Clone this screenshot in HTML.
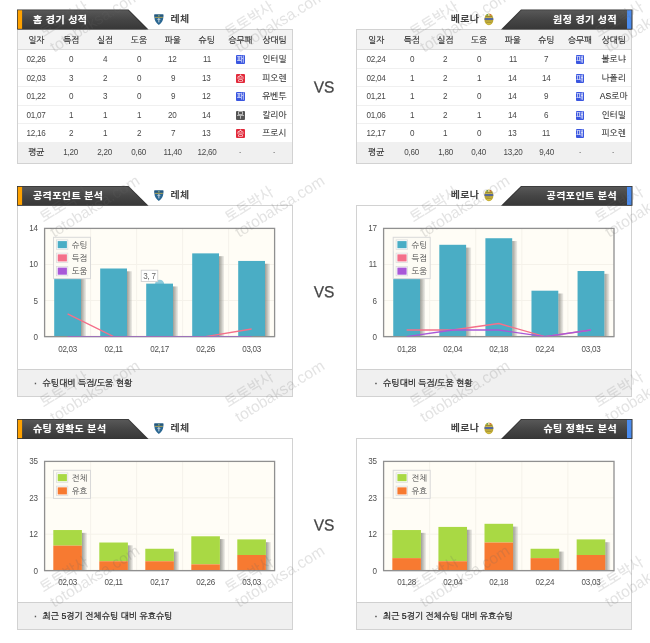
<!DOCTYPE html>
<html lang="ko">
<head>
<meta charset="utf-8">
<title>경기 분석</title>
<style>
*{margin:0;padding:0;box-sizing:border-box}
html,body{width:650px;height:643px;background:#fff;overflow:hidden}
body{position:relative;font-family:"Liberation Sans","NanumGothic","Noto Sans CJK KR",sans-serif;font-size:9px;color:#444}
.abs{position:absolute}
.tab{position:absolute;height:22px;width:133px}
.tab svg{position:absolute;left:0;top:0}
.tab h2{position:absolute;transform:scaleY(0.9);font-size:10px;font-weight:bold;font-family:"Liberation Sans","Noto Sans CJK KR",sans-serif;color:#fff;white-space:nowrap;letter-spacing:0.4px;text-shadow:0 0 1px rgba(255,255,255,.5)}
.team{position:absolute;height:19px;line-height:18px;font-size:10px;letter-spacing:0.3px;font-weight:bold;font-family:"Liberation Sans","Noto Sans CJK KR",sans-serif;color:#444;transform:scaleY(0.94);white-space:nowrap}
.box{position:absolute;width:276px;border:1px solid #d2d2d2;background:#fff}
table,thead,tbody,tfoot{display:block;width:274px}
tr{display:flex;width:274px;padding-left:var(--pad);overflow:hidden}
th,td{display:block;flex:0 0 auto;text-align:center;font-weight:normal;font-size:8.6px;color:#444;white-space:nowrap;overflow:visible;padding:0}
thead tr{background:#f3f3f3;border-bottom:1px solid #dcdcdc}
thead th{height:19.4px;line-height:20.8px;color:#262626;-webkit-text-stroke:0.15px #262626}
tbody tr{border-bottom:1px solid #f0f0f0}
tbody td{height:17.45px;line-height:18.2px;font-size:8.8px;color:#484848}
td span.n{display:inline-block;transform:scaleX(0.92);letter-spacing:-0.3px;margin:0 -3px;text-indent:-0.3px}
tbody td.t{font-size:8.6px;color:#262626;-webkit-text-stroke:0.08px #262626}
tfoot tr{background:#f0f0f0}
tfoot td{height:20px;line-height:19.8px;font-size:8.8px;color:#484848}
tfoot td.k{font-size:8.6px;color:#262626;-webkit-text-stroke:0.15px #262626}
.b{display:inline-block;position:relative;top:-0.3px;width:8.8px;height:9px;line-height:10.6px;font-size:8px;color:#fff;text-align:center;vertical-align:middle;border-radius:1px}
.b.w{background:#e2293a}.b.d{background:#555}.b.l{background:#3a56e0}
.c0{width:var(--w0)}.c1{width:var(--w1)}
.vs{position:absolute;left:294.4px;width:60px;text-align:center;font-size:16px;line-height:16px;color:#444;-webkit-text-stroke:0.25px #444;transform:translateY(var(--dy)) rotate(0.03deg) scaleX(0.97)}
.foot{position:absolute;left:0;right:0;bottom:0;height:27px;background:#f0f0f0;border-top:1px solid #d0d0d0;line-height:26.6px;font-size:8.75px;color:#222;padding-left:16px;white-space:nowrap;-webkit-text-stroke:0.22px #222}
.foot i{font-style:normal;display:inline-block;width:8.6px;color:#555;-webkit-text-stroke:0.5px #555}
.chart{position:absolute;left:0;top:0}
.chart text{font-family:"Liberation Sans","NanumGothic","Noto Sans CJK KR",sans-serif}
#wm{position:absolute;left:0;top:0;pointer-events:none;z-index:5}
.tab svg{z-index:4}
.tab h2{z-index:6}
#wm text{font-family:"Liberation Sans","NanumGothic","Noto Sans CJK KR",sans-serif;fill:#666;opacity:0.18}
#wm text.k{stroke:#666;stroke-width:0.3}
</style>
</head>
<body>
<div class="tab" style="left:17px;top:9px"><svg width="133" height="22" viewBox="0 0 133 22"><defs><linearGradient id="tg1" x1="0" y1="0" x2="0" y2="1"><stop offset="0" stop-color="#585858"/><stop offset="0.5" stop-color="#454545"/><stop offset="1" stop-color="#383838"/></linearGradient></defs><path d="M0 0.40H111.5L131.5 20.60H0Z" fill="#333"/><path d="M0.7 1.20H111L129.6 20.20H0.7Z" fill="url(#tg1)"/><rect x="0.8" y="1.30" width="4.3" height="18.50" fill="#ffa200"/></svg><h2 style="left:16px;top:0.80px;height:20.2px;line-height:20.2px">홈 경기 성적</h2></div>
<svg class="abs" style="left:154px;top:13.9px" width="10" height="12" viewBox="0 0 10 12"><path d="M0.4 0.5H9.3V3.6C9.3 6.6 7.4 9.3 4.85 11C2.3 9.3 0.4 6.6 0.4 3.6Z" fill="#2a6792"/><path d="M0.4 0.5H9.3V2.7H0.4Z" fill="#24587e"/><rect x="0.9" y="2.9" width="7.9" height="0.8" fill="#cbb04a"/><rect x="4.3" y="4" width="1.1" height="4.4" fill="#b9cbd6"/><rect x="3.3" y="4.9" width="3.1" height="0.9" fill="#b9cbd6"/><circle cx="4.85" cy="1.7" r="0.9" fill="#7d9a7a"/></svg>
<div class="team" style="left:170.6px;top:10px">레체</div>
<div class="tab" style="left:501px;top:9px"><svg width="133" height="22" viewBox="0 0 133 22"><defs><linearGradient id="tg2" x1="0" y1="0" x2="0" y2="1"><stop offset="0" stop-color="#585858"/><stop offset="0.5" stop-color="#454545"/><stop offset="1" stop-color="#383838"/></linearGradient></defs><path d="M20 0.40H131.5V20.60H0Z" fill="#333"/><path d="M20.5 1.20H130.8V20.20H1.9Z" fill="url(#tg2)"/><rect x="126" y="1.30" width="4.4" height="18.50" fill="#4a8cf0"/></svg><h2 style="right:17px;top:0.80px;height:20.2px;line-height:20.2px">원정 경기 성적</h2></div>
<div class="team" style="right:170.8px;top:10px">베로나</div>
<svg class="abs" style="left:484.4px;top:12.7px" width="10" height="13" viewBox="0 0 10 13"><ellipse cx="4.9" cy="6.4" rx="4.5" ry="5.9" fill="#c4ad34"/><ellipse cx="4.9" cy="6.4" rx="3.6" ry="5" fill="#d2bd45"/><rect x="0.6" y="4.9" width="8.6" height="2.1" fill="#55689c"/><rect x="1.2" y="7.6" width="7.4" height="0.7" fill="#8e7f2c"/><rect x="2.1" y="9.3" width="5.6" height="0.7" fill="#9a8a2e"/><rect x="2.6" y="1.1" width="1.6" height="1.5" fill="#62a458"/><rect x="4.2" y="1.1" width="1.4" height="1.5" fill="#ece6cf"/><rect x="5.6" y="1.1" width="1.6" height="1.5" fill="#d46a40"/><rect x="1.6" y="3.2" width="6.6" height="0.8" fill="#8e7f2c"/></svg>
<div class="box tb" style="left:17px;top:29px;height:134.6px;--pad:0.3px;--w0:36px;--w1:33.87px"><table><thead><tr><th class="c0">일자</th><th class="c1">득점</th><th class="c1">실점</th><th class="c1">도움</th><th class="c1">파울</th><th class="c1">슈팅</th><th class="c1">승무패</th><th class="c1">상대팀</th></tr></thead><tbody><tr><td class="c0"><span class="n">02,26</span></td><td class="c1"><span class="n">0</span></td><td class="c1"><span class="n">4</span></td><td class="c1"><span class="n">0</span></td><td class="c1"><span class="n">12</span></td><td class="c1"><span class="n">11</span></td><td class="c1"><span class="b l">패</span></td><td class="c1 t">인터밀</td></tr><tr><td class="c0"><span class="n">02,03</span></td><td class="c1"><span class="n">3</span></td><td class="c1"><span class="n">2</span></td><td class="c1"><span class="n">0</span></td><td class="c1"><span class="n">9</span></td><td class="c1"><span class="n">13</span></td><td class="c1"><span class="b w">승</span></td><td class="c1 t">피오렌</td></tr><tr><td class="c0"><span class="n">01,22</span></td><td class="c1"><span class="n">0</span></td><td class="c1"><span class="n">3</span></td><td class="c1"><span class="n">0</span></td><td class="c1"><span class="n">9</span></td><td class="c1"><span class="n">12</span></td><td class="c1"><span class="b l">패</span></td><td class="c1 t">유벤투</td></tr><tr><td class="c0"><span class="n">01,07</span></td><td class="c1"><span class="n">1</span></td><td class="c1"><span class="n">1</span></td><td class="c1"><span class="n">1</span></td><td class="c1"><span class="n">20</span></td><td class="c1"><span class="n">14</span></td><td class="c1"><span class="b d">무</span></td><td class="c1 t">칼리아</td></tr><tr><td class="c0"><span class="n">12,16</span></td><td class="c1"><span class="n">2</span></td><td class="c1"><span class="n">1</span></td><td class="c1"><span class="n">2</span></td><td class="c1"><span class="n">7</span></td><td class="c1"><span class="n">13</span></td><td class="c1"><span class="b w">승</span></td><td class="c1 t">프로시</td></tr></tbody><tfoot><tr><td class="c0 k">평균</td><td class="c1"><span class="n">1,20</span></td><td class="c1"><span class="n">2,20</span></td><td class="c1"><span class="n">0,60</span></td><td class="c1"><span class="n">11,40</span></td><td class="c1"><span class="n">12,60</span></td><td class="c1"><span class="n">·</span></td><td class="c1"><span class="n">·</span></td></tr></tfoot></table></div>
<div class="box tb" style="left:356px;top:29px;height:134.6px;--pad:0.4px;--w0:37.6px;--w1:33.65px"><table><thead><tr><th class="c0">일자</th><th class="c1">득점</th><th class="c1">실점</th><th class="c1">도움</th><th class="c1">파울</th><th class="c1">슈팅</th><th class="c1">승무패</th><th class="c1">상대팀</th></tr></thead><tbody><tr><td class="c0"><span class="n">02,24</span></td><td class="c1"><span class="n">0</span></td><td class="c1"><span class="n">2</span></td><td class="c1"><span class="n">0</span></td><td class="c1"><span class="n">11</span></td><td class="c1"><span class="n">7</span></td><td class="c1"><span class="b l">패</span></td><td class="c1 t">볼로냐</td></tr><tr><td class="c0"><span class="n">02,04</span></td><td class="c1"><span class="n">1</span></td><td class="c1"><span class="n">2</span></td><td class="c1"><span class="n">1</span></td><td class="c1"><span class="n">14</span></td><td class="c1"><span class="n">14</span></td><td class="c1"><span class="b l">패</span></td><td class="c1 t">나폴리</td></tr><tr><td class="c0"><span class="n">01,21</span></td><td class="c1"><span class="n">1</span></td><td class="c1"><span class="n">2</span></td><td class="c1"><span class="n">0</span></td><td class="c1"><span class="n">14</span></td><td class="c1"><span class="n">9</span></td><td class="c1"><span class="b l">패</span></td><td class="c1 t">AS로마</td></tr><tr><td class="c0"><span class="n">01,06</span></td><td class="c1"><span class="n">1</span></td><td class="c1"><span class="n">2</span></td><td class="c1"><span class="n">1</span></td><td class="c1"><span class="n">14</span></td><td class="c1"><span class="n">6</span></td><td class="c1"><span class="b l">패</span></td><td class="c1 t">인터밀</td></tr><tr><td class="c0"><span class="n">12,17</span></td><td class="c1"><span class="n">0</span></td><td class="c1"><span class="n">1</span></td><td class="c1"><span class="n">0</span></td><td class="c1"><span class="n">13</span></td><td class="c1"><span class="n">11</span></td><td class="c1"><span class="b l">패</span></td><td class="c1 t">피오렌</td></tr></tbody><tfoot><tr><td class="c0 k">평균</td><td class="c1"><span class="n">0,60</span></td><td class="c1"><span class="n">1,80</span></td><td class="c1"><span class="n">0,40</span></td><td class="c1"><span class="n">13,20</span></td><td class="c1"><span class="n">9,40</span></td><td class="c1"><span class="n">·</span></td><td class="c1"><span class="n">·</span></td></tr></tfoot></table></div>
<div class="vs" style="top:79px;--dy:0.5px">VS</div>
<div class="tab" style="left:17px;top:186px"><svg width="133" height="22" viewBox="0 0 133 22"><defs><linearGradient id="tg3" x1="0" y1="0" x2="0" y2="1"><stop offset="0" stop-color="#585858"/><stop offset="0.5" stop-color="#454545"/><stop offset="1" stop-color="#383838"/></linearGradient></defs><path d="M0 0.00H111.5L131.5 19.70H0Z" fill="#333"/><path d="M0.7 0.80H111L129.6 19.30H0.7Z" fill="url(#tg3)"/><rect x="0.8" y="0.90" width="4.3" height="18.00" fill="#ffa200"/></svg><h2 style="left:16px;top:0.40px;height:19.7px;line-height:19.7px">공격포인트 분석</h2></div>
<svg class="abs" style="left:154px;top:189.9px" width="10" height="12" viewBox="0 0 10 12"><path d="M0.4 0.5H9.3V3.6C9.3 6.6 7.4 9.3 4.85 11C2.3 9.3 0.4 6.6 0.4 3.6Z" fill="#2a6792"/><path d="M0.4 0.5H9.3V2.7H0.4Z" fill="#24587e"/><rect x="0.9" y="2.9" width="7.9" height="0.8" fill="#cbb04a"/><rect x="4.3" y="4" width="1.1" height="4.4" fill="#b9cbd6"/><rect x="3.3" y="4.9" width="3.1" height="0.9" fill="#b9cbd6"/><circle cx="4.85" cy="1.7" r="0.9" fill="#7d9a7a"/></svg>
<div class="team" style="left:170.6px;top:186px">레체</div>
<div class="tab" style="left:501px;top:186px"><svg width="133" height="22" viewBox="0 0 133 22"><defs><linearGradient id="tg4" x1="0" y1="0" x2="0" y2="1"><stop offset="0" stop-color="#585858"/><stop offset="0.5" stop-color="#454545"/><stop offset="1" stop-color="#383838"/></linearGradient></defs><path d="M20 0.00H131.5V19.70H0Z" fill="#333"/><path d="M20.5 0.80H130.8V19.30H1.9Z" fill="url(#tg4)"/><rect x="126" y="0.90" width="4.4" height="18.00" fill="#4a8cf0"/></svg><h2 style="right:17px;top:0.40px;height:19.7px;line-height:19.7px">공격포인트 분석</h2></div>
<div class="team" style="right:170.8px;top:186px">베로나</div>
<svg class="abs" style="left:484.4px;top:188.7px" width="10" height="13" viewBox="0 0 10 13"><ellipse cx="4.9" cy="6.4" rx="4.5" ry="5.9" fill="#c4ad34"/><ellipse cx="4.9" cy="6.4" rx="3.6" ry="5" fill="#d2bd45"/><rect x="0.6" y="4.9" width="8.6" height="2.1" fill="#55689c"/><rect x="1.2" y="7.6" width="7.4" height="0.7" fill="#8e7f2c"/><rect x="2.1" y="9.3" width="5.6" height="0.7" fill="#9a8a2e"/><rect x="2.6" y="1.1" width="1.6" height="1.5" fill="#62a458"/><rect x="4.2" y="1.1" width="1.4" height="1.5" fill="#ece6cf"/><rect x="5.6" y="1.1" width="1.6" height="1.5" fill="#d46a40"/><rect x="1.6" y="3.2" width="6.6" height="0.8" fill="#8e7f2c"/></svg>
<div class="box" style="left:17px;top:205px;height:192px"><svg class="chart" width="274" height="163" viewBox="0 0 274 163"><defs><linearGradient id="sh1" x1="0" y1="0" x2="1" y2="0"><stop offset="0" stop-color="#7d7d76" stop-opacity="0.75"/><stop offset="0.5" stop-color="#8d8d86" stop-opacity="0.5"/><stop offset="1" stop-color="#aaa" stop-opacity="0.2"/></linearGradient></defs><defs><clipPath id="cp1"><rect x="26.6" y="22.4" width="230.00000000000003" height="108.54999999999998"/></clipPath></defs><rect x="26.6" y="22.4" width="230.00000000000003" height="108.19999999999999" fill="#fffdf6"/><line x1="72.60" y1="22.4" x2="72.60" y2="130.6" stroke="#f5f2ea" stroke-width="1"/><line x1="118.60" y1="22.4" x2="118.60" y2="130.6" stroke="#f5f2ea" stroke-width="1"/><line x1="164.60" y1="22.4" x2="164.60" y2="130.6" stroke="#f5f2ea" stroke-width="1"/><line x1="210.60" y1="22.4" x2="210.60" y2="130.6" stroke="#f5f2ea" stroke-width="1"/><line x1="26.6" y1="58.47" x2="256.6" y2="58.47" stroke="#f5f2ea" stroke-width="1"/><line x1="26.6" y1="94.53" x2="256.6" y2="94.53" stroke="#f5f2ea" stroke-width="1"/><circle cx="141.60" cy="78.23" r="4.6" fill="#8ccbdc"/><rect x="63.00" y="35.04" width="5" height="95.56" fill="url(#sh1)"/><rect x="36.20" y="32.24" width="26.8" height="98.36" fill="#4aadc5"/><rect x="109.00" y="65.30" width="5" height="65.30" fill="url(#sh1)"/><rect x="82.20" y="62.50" width="26.8" height="68.10" fill="#4aadc5"/><rect x="155.00" y="80.43" width="5" height="50.17" fill="url(#sh1)"/><rect x="128.20" y="77.63" width="26.8" height="52.97" fill="#4aadc5"/><rect x="201.00" y="50.17" width="5" height="80.43" fill="url(#sh1)"/><rect x="174.20" y="47.37" width="26.8" height="83.23" fill="#4aadc5"/><rect x="247.00" y="57.74" width="5" height="72.86" fill="url(#sh1)"/><rect x="220.20" y="54.94" width="26.8" height="75.66" fill="#4aadc5"/><rect x="26.6" y="22.4" width="230.00000000000003" height="108.19999999999999" fill="none" stroke="#909090" stroke-width="1.3"/><polyline points="49.6,107.9 95.6,130.6 141.6,130.6 187.6,130.6 233.6,123.0" fill="none" stroke="#f4708a" stroke-width="1.35" stroke-linejoin="round" clip-path="url(#cp1)"/><polyline points="49.6,130.6 95.6,130.6 141.6,130.6 187.6,130.6 233.6,130.6" fill="none" stroke="#a858d8" stroke-width="1.35" stroke-linejoin="round" clip-path="url(#cp1)"/><line x1="26.6" y1="130.6" x2="256.6" y2="130.6" stroke="#909090" stroke-width="1.3" stroke-opacity="0.45"/><text transform="translate(19.6,25.40) scale(0.92,1)" text-anchor="end" font-size="8.8" letter-spacing="-0.3" fill="#505050">14</text><text transform="translate(19.6,61.47) scale(0.92,1)" text-anchor="end" font-size="8.8" letter-spacing="-0.3" fill="#505050">10</text><text transform="translate(19.6,97.53) scale(0.92,1)" text-anchor="end" font-size="8.8" letter-spacing="-0.3" fill="#505050">5</text><text transform="translate(19.6,133.60) scale(0.92,1)" text-anchor="end" font-size="8.8" letter-spacing="-0.3" fill="#505050">0</text><text transform="translate(49.60,145.80) scale(0.92,1)" text-anchor="middle" font-size="8.8" letter-spacing="-0.3" fill="#505050">02,03</text><text transform="translate(95.60,145.80) scale(0.92,1)" text-anchor="middle" font-size="8.8" letter-spacing="-0.3" fill="#505050">02,11</text><text transform="translate(141.60,145.80) scale(0.92,1)" text-anchor="middle" font-size="8.8" letter-spacing="-0.3" fill="#505050">02,17</text><text transform="translate(187.60,145.80) scale(0.92,1)" text-anchor="middle" font-size="8.8" letter-spacing="-0.3" fill="#505050">02,26</text><text transform="translate(233.60,145.80) scale(0.92,1)" text-anchor="middle" font-size="8.8" letter-spacing="-0.3" fill="#505050">03,03</text><rect x="35.5" y="31.3" width="37" height="41.35" fill="#fdfbf4" stroke="#d9d9d9" stroke-width="1"/><rect x="38.4" y="33.90" width="11.4" height="9.4" fill="#fff" stroke="#dcdcdc" stroke-width="0.8"/><rect x="39.7" y="35.10" width="9.2" height="7.1" fill="#4aadc5"/><text x="53.7" y="41.80" font-size="8.3" fill="#444">슈팅</text><rect x="38.4" y="47.15" width="11.4" height="9.4" fill="#fff" stroke="#dcdcdc" stroke-width="0.8"/><rect x="39.7" y="48.35" width="9.2" height="7.1" fill="#f4708a"/><text x="53.7" y="55.05" font-size="8.3" fill="#444">득점</text><rect x="38.4" y="60.40" width="11.4" height="9.4" fill="#fff" stroke="#dcdcdc" stroke-width="0.8"/><rect x="39.7" y="61.60" width="9.2" height="7.1" fill="#a858d8"/><text x="53.7" y="68.30" font-size="8.3" fill="#444">도움</text><rect x="123.2" y="64.2" width="16.6" height="11.4" fill="#fff" stroke="#ccc" stroke-width="0.8"/><text transform="translate(131.5,73.0) scale(0.92,1)" text-anchor="middle" font-size="8.8" letter-spacing="-0.3" fill="#666">3, 7</text></svg><div class="foot" style="padding-left:16px"><i>·</i>슈팅대비 득점/도움 현황</div></div>
<div class="box" style="left:356px;top:205px;height:192px"><svg class="chart" width="274" height="163" viewBox="0 0 274 163"><defs><linearGradient id="sh2" x1="0" y1="0" x2="1" y2="0"><stop offset="0" stop-color="#7d7d76" stop-opacity="0.75"/><stop offset="0.5" stop-color="#8d8d86" stop-opacity="0.5"/><stop offset="1" stop-color="#aaa" stop-opacity="0.2"/></linearGradient></defs><defs><clipPath id="cp2"><rect x="26.6" y="22.4" width="230.4" height="108.54999999999998"/></clipPath></defs><rect x="26.6" y="22.4" width="230.4" height="108.19999999999999" fill="#fffdf6"/><line x1="72.68" y1="22.4" x2="72.68" y2="130.6" stroke="#f5f2ea" stroke-width="1"/><line x1="118.76" y1="22.4" x2="118.76" y2="130.6" stroke="#f5f2ea" stroke-width="1"/><line x1="164.84" y1="22.4" x2="164.84" y2="130.6" stroke="#f5f2ea" stroke-width="1"/><line x1="210.92" y1="22.4" x2="210.92" y2="130.6" stroke="#f5f2ea" stroke-width="1"/><line x1="26.6" y1="58.47" x2="257.0" y2="58.47" stroke="#f5f2ea" stroke-width="1"/><line x1="26.6" y1="94.53" x2="257.0" y2="94.53" stroke="#f5f2ea" stroke-width="1"/><rect x="63.04" y="48.15" width="5" height="82.45" fill="url(#sh2)"/><rect x="36.24" y="45.35" width="26.8" height="85.25" fill="#4aadc5"/><rect x="109.12" y="41.59" width="5" height="89.01" fill="url(#sh2)"/><rect x="82.32" y="38.79" width="26.8" height="91.81" fill="#4aadc5"/><rect x="155.20" y="35.04" width="5" height="95.56" fill="url(#sh2)"/><rect x="128.40" y="32.24" width="26.8" height="98.36" fill="#4aadc5"/><rect x="201.28" y="87.50" width="5" height="43.10" fill="url(#sh2)"/><rect x="174.48" y="84.70" width="26.8" height="45.90" fill="#4aadc5"/><rect x="247.36" y="67.82" width="5" height="62.78" fill="url(#sh2)"/><rect x="220.56" y="65.02" width="26.8" height="65.58" fill="#4aadc5"/><rect x="26.6" y="22.4" width="230.4" height="108.19999999999999" fill="none" stroke="#909090" stroke-width="1.3"/><polyline points="49.6,124.0 95.7,124.0 141.8,117.5 187.9,130.6 234.0,124.0" fill="none" stroke="#f4708a" stroke-width="1.35" stroke-linejoin="round" clip-path="url(#cp2)"/><polyline points="49.6,130.6 95.7,124.0 141.8,124.0 187.9,130.6 234.0,124.0" fill="none" stroke="#a858d8" stroke-width="1.35" stroke-linejoin="round" clip-path="url(#cp2)"/><line x1="26.6" y1="130.6" x2="257.0" y2="130.6" stroke="#909090" stroke-width="1.3" stroke-opacity="0.45"/><text transform="translate(19.6,25.40) scale(0.92,1)" text-anchor="end" font-size="8.8" letter-spacing="-0.3" fill="#505050">17</text><text transform="translate(19.6,61.47) scale(0.92,1)" text-anchor="end" font-size="8.8" letter-spacing="-0.3" fill="#505050">11</text><text transform="translate(19.6,97.53) scale(0.92,1)" text-anchor="end" font-size="8.8" letter-spacing="-0.3" fill="#505050">6</text><text transform="translate(19.6,133.60) scale(0.92,1)" text-anchor="end" font-size="8.8" letter-spacing="-0.3" fill="#505050">0</text><text transform="translate(49.64,145.80) scale(0.92,1)" text-anchor="middle" font-size="8.8" letter-spacing="-0.3" fill="#505050">01,28</text><text transform="translate(95.72,145.80) scale(0.92,1)" text-anchor="middle" font-size="8.8" letter-spacing="-0.3" fill="#505050">02,04</text><text transform="translate(141.80,145.80) scale(0.92,1)" text-anchor="middle" font-size="8.8" letter-spacing="-0.3" fill="#505050">02,18</text><text transform="translate(187.88,145.80) scale(0.92,1)" text-anchor="middle" font-size="8.8" letter-spacing="-0.3" fill="#505050">02,24</text><text transform="translate(233.96,145.80) scale(0.92,1)" text-anchor="middle" font-size="8.8" letter-spacing="-0.3" fill="#505050">03,03</text><rect x="36.2" y="31.3" width="37" height="41.35" fill="#fdfbf4" stroke="#d9d9d9" stroke-width="1"/><rect x="39.1" y="33.90" width="11.4" height="9.4" fill="#fff" stroke="#dcdcdc" stroke-width="0.8"/><rect x="40.400000000000006" y="35.10" width="9.2" height="7.1" fill="#4aadc5"/><text x="54.400000000000006" y="41.80" font-size="8.3" fill="#444">슈팅</text><rect x="39.1" y="47.15" width="11.4" height="9.4" fill="#fff" stroke="#dcdcdc" stroke-width="0.8"/><rect x="40.400000000000006" y="48.35" width="9.2" height="7.1" fill="#f4708a"/><text x="54.400000000000006" y="55.05" font-size="8.3" fill="#444">득점</text><rect x="39.1" y="60.40" width="11.4" height="9.4" fill="#fff" stroke="#dcdcdc" stroke-width="0.8"/><rect x="40.400000000000006" y="61.60" width="9.2" height="7.1" fill="#a858d8"/><text x="54.400000000000006" y="68.30" font-size="8.3" fill="#444">도움</text></svg><div class="foot" style="padding-left:17.4px"><i>·</i>슈팅대비 득점/도움 현황</div></div>
<div class="vs" style="top:284px;--dy:0.2px">VS</div>
<div class="tab" style="left:17px;top:419px"><svg width="133" height="22" viewBox="0 0 133 22"><defs><linearGradient id="tg5" x1="0" y1="0" x2="0" y2="1"><stop offset="0" stop-color="#585858"/><stop offset="0.5" stop-color="#454545"/><stop offset="1" stop-color="#383838"/></linearGradient></defs><path d="M0 0.00H111.5L131.5 19.90H0Z" fill="#333"/><path d="M0.7 0.80H111L129.6 19.50H0.7Z" fill="url(#tg5)"/><rect x="0.8" y="0.90" width="4.3" height="18.20" fill="#ffa200"/></svg><h2 style="left:16px;top:0.40px;height:19.9px;line-height:19.9px">슈팅 정확도 분석</h2></div>
<svg class="abs" style="left:154px;top:422.9px" width="10" height="12" viewBox="0 0 10 12"><path d="M0.4 0.5H9.3V3.6C9.3 6.6 7.4 9.3 4.85 11C2.3 9.3 0.4 6.6 0.4 3.6Z" fill="#2a6792"/><path d="M0.4 0.5H9.3V2.7H0.4Z" fill="#24587e"/><rect x="0.9" y="2.9" width="7.9" height="0.8" fill="#cbb04a"/><rect x="4.3" y="4" width="1.1" height="4.4" fill="#b9cbd6"/><rect x="3.3" y="4.9" width="3.1" height="0.9" fill="#b9cbd6"/><circle cx="4.85" cy="1.7" r="0.9" fill="#7d9a7a"/></svg>
<div class="team" style="left:170.6px;top:419px">레체</div>
<div class="tab" style="left:501px;top:419px"><svg width="133" height="22" viewBox="0 0 133 22"><defs><linearGradient id="tg6" x1="0" y1="0" x2="0" y2="1"><stop offset="0" stop-color="#585858"/><stop offset="0.5" stop-color="#454545"/><stop offset="1" stop-color="#383838"/></linearGradient></defs><path d="M20 0.00H131.5V19.90H0Z" fill="#333"/><path d="M20.5 0.80H130.8V19.50H1.9Z" fill="url(#tg6)"/><rect x="126" y="0.90" width="4.4" height="18.20" fill="#4a8cf0"/></svg><h2 style="right:17px;top:0.40px;height:19.9px;line-height:19.9px">슈팅 정확도 분석</h2></div>
<div class="team" style="right:170.8px;top:419px">베로나</div>
<svg class="abs" style="left:484.4px;top:421.7px" width="10" height="13" viewBox="0 0 10 13"><ellipse cx="4.9" cy="6.4" rx="4.5" ry="5.9" fill="#c4ad34"/><ellipse cx="4.9" cy="6.4" rx="3.6" ry="5" fill="#d2bd45"/><rect x="0.6" y="4.9" width="8.6" height="2.1" fill="#55689c"/><rect x="1.2" y="7.6" width="7.4" height="0.7" fill="#8e7f2c"/><rect x="2.1" y="9.3" width="5.6" height="0.7" fill="#9a8a2e"/><rect x="2.6" y="1.1" width="1.6" height="1.5" fill="#62a458"/><rect x="4.2" y="1.1" width="1.4" height="1.5" fill="#ece6cf"/><rect x="5.6" y="1.1" width="1.6" height="1.5" fill="#d46a40"/><rect x="1.6" y="3.2" width="6.6" height="0.8" fill="#8e7f2c"/></svg>
<div class="box" style="left:17px;top:438px;height:192px"><svg class="chart" width="274" height="163" viewBox="0 0 274 163"><defs><linearGradient id="sh3" x1="0" y1="0" x2="1" y2="0"><stop offset="0" stop-color="#7d7d76" stop-opacity="0.75"/><stop offset="0.5" stop-color="#8d8d86" stop-opacity="0.5"/><stop offset="1" stop-color="#aaa" stop-opacity="0.2"/></linearGradient></defs><defs><clipPath id="cp3"><rect x="26.6" y="22.4" width="230.00000000000003" height="109.54999999999998"/></clipPath></defs><rect x="26.6" y="22.4" width="230.00000000000003" height="109.19999999999999" fill="#fffdf6"/><line x1="72.60" y1="22.4" x2="72.60" y2="131.6" stroke="#f5f2ea" stroke-width="1"/><line x1="118.60" y1="22.4" x2="118.60" y2="131.6" stroke="#f5f2ea" stroke-width="1"/><line x1="164.60" y1="22.4" x2="164.60" y2="131.6" stroke="#f5f2ea" stroke-width="1"/><line x1="210.60" y1="22.4" x2="210.60" y2="131.6" stroke="#f5f2ea" stroke-width="1"/><line x1="26.6" y1="58.80" x2="256.6" y2="58.80" stroke="#f5f2ea" stroke-width="1"/><line x1="26.6" y1="95.20" x2="256.6" y2="95.20" stroke="#f5f2ea" stroke-width="1"/><rect x="63.90" y="93.84" width="5" height="37.76" fill="url(#sh3)"/><rect x="35.30" y="91.04" width="28.6" height="15.60" fill="#a9d944"/><rect x="35.30" y="106.64" width="28.6" height="24.96" fill="#f77a31"/><rect x="109.90" y="106.32" width="5" height="25.28" fill="url(#sh3)"/><rect x="81.30" y="103.52" width="28.6" height="18.72" fill="#a9d944"/><rect x="81.30" y="122.24" width="28.6" height="9.36" fill="#f77a31"/><rect x="155.90" y="112.56" width="5" height="19.04" fill="url(#sh3)"/><rect x="127.30" y="109.76" width="28.6" height="12.48" fill="#a9d944"/><rect x="127.30" y="122.24" width="28.6" height="9.36" fill="#f77a31"/><rect x="201.90" y="100.08" width="5" height="31.52" fill="url(#sh3)"/><rect x="173.30" y="97.28" width="28.6" height="28.08" fill="#a9d944"/><rect x="173.30" y="125.36" width="28.6" height="6.24" fill="#f77a31"/><rect x="247.90" y="103.20" width="5" height="28.40" fill="url(#sh3)"/><rect x="219.30" y="100.40" width="28.6" height="15.60" fill="#a9d944"/><rect x="219.30" y="116.00" width="28.6" height="15.60" fill="#f77a31"/><rect x="26.6" y="22.4" width="230.00000000000003" height="109.19999999999999" fill="none" stroke="#909090" stroke-width="1.3"/><line x1="26.6" y1="131.6" x2="256.6" y2="131.6" stroke="#909090" stroke-width="1.3" stroke-opacity="0.45"/><text transform="translate(19.6,25.40) scale(0.92,1)" text-anchor="end" font-size="8.8" letter-spacing="-0.3" fill="#505050">35</text><text transform="translate(19.6,61.80) scale(0.92,1)" text-anchor="end" font-size="8.8" letter-spacing="-0.3" fill="#505050">23</text><text transform="translate(19.6,98.20) scale(0.92,1)" text-anchor="end" font-size="8.8" letter-spacing="-0.3" fill="#505050">12</text><text transform="translate(19.6,134.60) scale(0.92,1)" text-anchor="end" font-size="8.8" letter-spacing="-0.3" fill="#505050">0</text><text transform="translate(49.60,146.20) scale(0.92,1)" text-anchor="middle" font-size="8.8" letter-spacing="-0.3" fill="#505050">02,03</text><text transform="translate(95.60,146.20) scale(0.92,1)" text-anchor="middle" font-size="8.8" letter-spacing="-0.3" fill="#505050">02,11</text><text transform="translate(141.60,146.20) scale(0.92,1)" text-anchor="middle" font-size="8.8" letter-spacing="-0.3" fill="#505050">02,17</text><text transform="translate(187.60,146.20) scale(0.92,1)" text-anchor="middle" font-size="8.8" letter-spacing="-0.3" fill="#505050">02,26</text><text transform="translate(233.60,146.20) scale(0.92,1)" text-anchor="middle" font-size="8.8" letter-spacing="-0.3" fill="#505050">03,03</text><rect x="35.5" y="31.3" width="37" height="28.10" fill="#fdfbf4" stroke="#d9d9d9" stroke-width="1"/><rect x="38.4" y="33.90" width="11.4" height="9.4" fill="#fff" stroke="#dcdcdc" stroke-width="0.8"/><rect x="39.7" y="35.10" width="9.2" height="7.1" fill="#a9d944"/><text x="53.7" y="41.80" font-size="8.3" fill="#444">전체</text><rect x="38.4" y="47.15" width="11.4" height="9.4" fill="#fff" stroke="#dcdcdc" stroke-width="0.8"/><rect x="39.7" y="48.35" width="9.2" height="7.1" fill="#f77a31"/><text x="53.7" y="55.05" font-size="8.3" fill="#444">유효</text></svg><div class="foot" style="padding-left:16px"><i>·</i>최근 5경기 전체슈팅 대비 유효슈팅</div></div>
<div class="box" style="left:356px;top:438px;height:192px"><svg class="chart" width="274" height="163" viewBox="0 0 274 163"><defs><linearGradient id="sh4" x1="0" y1="0" x2="1" y2="0"><stop offset="0" stop-color="#7d7d76" stop-opacity="0.75"/><stop offset="0.5" stop-color="#8d8d86" stop-opacity="0.5"/><stop offset="1" stop-color="#aaa" stop-opacity="0.2"/></linearGradient></defs><defs><clipPath id="cp4"><rect x="26.6" y="22.4" width="230.4" height="109.54999999999998"/></clipPath></defs><rect x="26.6" y="22.4" width="230.4" height="109.19999999999999" fill="#fffdf6"/><line x1="72.68" y1="22.4" x2="72.68" y2="131.6" stroke="#f5f2ea" stroke-width="1"/><line x1="118.76" y1="22.4" x2="118.76" y2="131.6" stroke="#f5f2ea" stroke-width="1"/><line x1="164.84" y1="22.4" x2="164.84" y2="131.6" stroke="#f5f2ea" stroke-width="1"/><line x1="210.92" y1="22.4" x2="210.92" y2="131.6" stroke="#f5f2ea" stroke-width="1"/><line x1="26.6" y1="58.80" x2="257.0" y2="58.80" stroke="#f5f2ea" stroke-width="1"/><line x1="26.6" y1="95.20" x2="257.0" y2="95.20" stroke="#f5f2ea" stroke-width="1"/><rect x="63.94" y="93.84" width="5" height="37.76" fill="url(#sh4)"/><rect x="35.34" y="91.04" width="28.6" height="28.08" fill="#a9d944"/><rect x="35.34" y="119.12" width="28.6" height="12.48" fill="#f77a31"/><rect x="110.02" y="90.72" width="5" height="40.88" fill="url(#sh4)"/><rect x="81.42" y="87.92" width="28.6" height="34.32" fill="#a9d944"/><rect x="81.42" y="122.24" width="28.6" height="9.36" fill="#f77a31"/><rect x="156.10" y="87.60" width="5" height="44.00" fill="url(#sh4)"/><rect x="127.50" y="84.80" width="28.6" height="18.72" fill="#a9d944"/><rect x="127.50" y="103.52" width="28.6" height="28.08" fill="#f77a31"/><rect x="202.18" y="112.56" width="5" height="19.04" fill="url(#sh4)"/><rect x="173.58" y="109.76" width="28.6" height="9.36" fill="#a9d944"/><rect x="173.58" y="119.12" width="28.6" height="12.48" fill="#f77a31"/><rect x="248.26" y="103.20" width="5" height="28.40" fill="url(#sh4)"/><rect x="219.66" y="100.40" width="28.6" height="15.60" fill="#a9d944"/><rect x="219.66" y="116.00" width="28.6" height="15.60" fill="#f77a31"/><rect x="26.6" y="22.4" width="230.4" height="109.19999999999999" fill="none" stroke="#909090" stroke-width="1.3"/><line x1="26.6" y1="131.6" x2="257.0" y2="131.6" stroke="#909090" stroke-width="1.3" stroke-opacity="0.45"/><text transform="translate(19.6,25.40) scale(0.92,1)" text-anchor="end" font-size="8.8" letter-spacing="-0.3" fill="#505050">35</text><text transform="translate(19.6,61.80) scale(0.92,1)" text-anchor="end" font-size="8.8" letter-spacing="-0.3" fill="#505050">23</text><text transform="translate(19.6,98.20) scale(0.92,1)" text-anchor="end" font-size="8.8" letter-spacing="-0.3" fill="#505050">12</text><text transform="translate(19.6,134.60) scale(0.92,1)" text-anchor="end" font-size="8.8" letter-spacing="-0.3" fill="#505050">0</text><text transform="translate(49.64,146.20) scale(0.92,1)" text-anchor="middle" font-size="8.8" letter-spacing="-0.3" fill="#505050">01,28</text><text transform="translate(95.72,146.20) scale(0.92,1)" text-anchor="middle" font-size="8.8" letter-spacing="-0.3" fill="#505050">02,04</text><text transform="translate(141.80,146.20) scale(0.92,1)" text-anchor="middle" font-size="8.8" letter-spacing="-0.3" fill="#505050">02,18</text><text transform="translate(187.88,146.20) scale(0.92,1)" text-anchor="middle" font-size="8.8" letter-spacing="-0.3" fill="#505050">02,24</text><text transform="translate(233.96,146.20) scale(0.92,1)" text-anchor="middle" font-size="8.8" letter-spacing="-0.3" fill="#505050">03,03</text><rect x="36.2" y="31.3" width="37" height="28.10" fill="#fdfbf4" stroke="#d9d9d9" stroke-width="1"/><rect x="39.1" y="33.90" width="11.4" height="9.4" fill="#fff" stroke="#dcdcdc" stroke-width="0.8"/><rect x="40.400000000000006" y="35.10" width="9.2" height="7.1" fill="#a9d944"/><text x="54.400000000000006" y="41.80" font-size="8.3" fill="#444">전체</text><rect x="39.1" y="47.15" width="11.4" height="9.4" fill="#fff" stroke="#dcdcdc" stroke-width="0.8"/><rect x="40.400000000000006" y="48.35" width="9.2" height="7.1" fill="#f77a31"/><text x="54.400000000000006" y="55.05" font-size="8.3" fill="#444">유효</text></svg><div class="foot" style="padding-left:17.4px"><i>·</i>최근 5경기 전체슈팅 대비 유효슈팅</div></div>
<div class="vs" style="top:517px;--dy:0.55px">VS</div>
<svg id="wm" width="650" height="643" viewBox="0 0 650 643"><text transform="translate(44.1,37.8) rotate(-32)" class="k" font-size="14.2">토토박사</text><text transform="translate(54.2,52.7) rotate(-32)" font-size="15.7">totobaksa.com</text><text transform="translate(229.1,37.8) rotate(-32)" class="k" font-size="14.2">토토박사</text><text transform="translate(239.2,52.7) rotate(-32)" font-size="15.7">totobaksa.com</text><text transform="translate(414.1,37.8) rotate(-32)" class="k" font-size="14.2">토토박사</text><text transform="translate(424.2,52.7) rotate(-32)" font-size="15.7">totobaksa.com</text><text transform="translate(599.1,37.8) rotate(-32)" class="k" font-size="14.2">토토박사</text><text transform="translate(609.2,52.7) rotate(-32)" font-size="15.7">totobaksa.com</text><text transform="translate(44.1,222.8) rotate(-32)" class="k" font-size="14.2">토토박사</text><text transform="translate(54.2,237.7) rotate(-32)" font-size="15.7">totobaksa.com</text><text transform="translate(229.1,222.8) rotate(-32)" class="k" font-size="14.2">토토박사</text><text transform="translate(239.2,237.7) rotate(-32)" font-size="15.7">totobaksa.com</text><text transform="translate(414.1,222.8) rotate(-32)" class="k" font-size="14.2">토토박사</text><text transform="translate(424.2,237.7) rotate(-32)" font-size="15.7">totobaksa.com</text><text transform="translate(599.1,222.8) rotate(-32)" class="k" font-size="14.2">토토박사</text><text transform="translate(609.2,237.7) rotate(-32)" font-size="15.7">totobaksa.com</text><text transform="translate(44.1,407.8) rotate(-32)" class="k" font-size="14.2">토토박사</text><text transform="translate(54.2,422.7) rotate(-32)" font-size="15.7">totobaksa.com</text><text transform="translate(229.1,407.8) rotate(-32)" class="k" font-size="14.2">토토박사</text><text transform="translate(239.2,422.7) rotate(-32)" font-size="15.7">totobaksa.com</text><text transform="translate(414.1,407.8) rotate(-32)" class="k" font-size="14.2">토토박사</text><text transform="translate(424.2,422.7) rotate(-32)" font-size="15.7">totobaksa.com</text><text transform="translate(599.1,407.8) rotate(-32)" class="k" font-size="14.2">토토박사</text><text transform="translate(609.2,422.7) rotate(-32)" font-size="15.7">totobaksa.com</text><text transform="translate(44.1,592.8) rotate(-32)" class="k" font-size="14.2">토토박사</text><text transform="translate(54.2,607.7) rotate(-32)" font-size="15.7">totobaksa.com</text><text transform="translate(229.1,592.8) rotate(-32)" class="k" font-size="14.2">토토박사</text><text transform="translate(239.2,607.7) rotate(-32)" font-size="15.7">totobaksa.com</text><text transform="translate(414.1,592.8) rotate(-32)" class="k" font-size="14.2">토토박사</text><text transform="translate(424.2,607.7) rotate(-32)" font-size="15.7">totobaksa.com</text><text transform="translate(599.1,592.8) rotate(-32)" class="k" font-size="14.2">토토박사</text><text transform="translate(609.2,607.7) rotate(-32)" font-size="15.7">totobaksa.com</text></svg>
</body>
</html>
